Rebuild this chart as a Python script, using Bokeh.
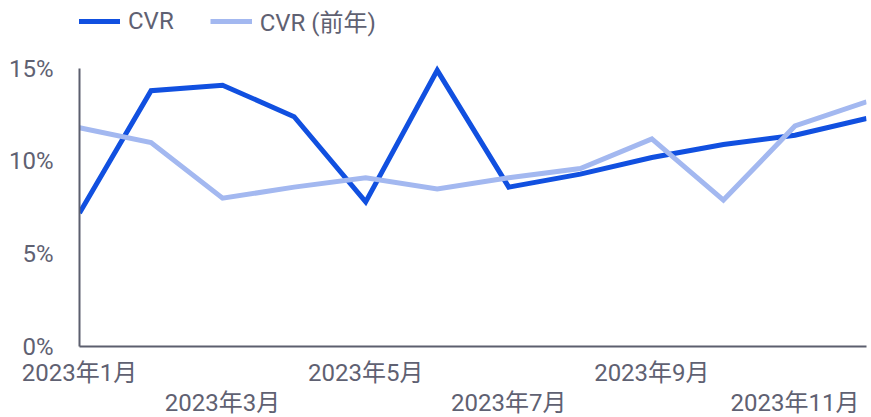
from bokeh.plotting import figure
from bokeh.models import Range1d, FixedTicker, LinearAxis, PrintfTickFormatter, Legend, LegendItem
from bokeh.embed import file_html
from bokeh.resources import INLINE

months = ["2023年1月", "2023年2月", "2023年3月", "2023年4月", "2023年5月", "2023年6月",
          "2023年7月", "2023年8月", "2023年9月", "2023年10月", "2023年11月", "2023年12月"]
cvr = [7.2, 13.8, 14.1, 12.4, 7.8, 14.9, 8.6, 9.3, 10.2, 10.9, 11.4, 12.3]
cvr_prev = [11.8, 11.0, 8.0, 8.6, 9.1, 8.5, 9.1, 9.6, 11.2, 7.9, 11.9, 13.2]
y_ticks = [0, 5, 10, 15]

x = list(range(len(months)))
FONT = "Roboto, 'Noto Sans CJK JP', sans-serif"
TXT = "#5f6172"
AX = "#5c5f6e"
BLUE = "#1150e0"
LIGHT = "#a3b8f0"
FS = "24px"

PLOT_H = 278          # pixel height of the 0-15% band
HEAD = 68             # headroom above 15% for the legend
FH = PLOT_H + HEAD
y_top = 15 + HEAD * 15 / PLOT_H

p = figure(frame_width=787, frame_height=FH, output_backend="svg", toolbar_location=None,
           x_range=Range1d(0, len(months) - 1), y_range=Range1d(0, y_top),
           x_axis_location=None, min_border_left=79, min_border_right=4,
           min_border_top=0, min_border_bottom=0)
p.outline_line_color = None
p.grid.visible = False

r1 = p.line(x, cvr, line_color=BLUE, line_width=5, line_join="miter")
r2 = p.line(x, cvr_prev, line_color=LIGHT, line_width=5, line_join="miter")

# y axis
ya = p.yaxis[0]
ya.ticker = FixedTicker(ticks=y_ticks)
ya.bounds = (0, 15)
ya.formatter = PrintfTickFormatter(format="%d%%")
ya.major_tick_line_color = None
ya.minor_tick_line_color = None
ya.axis_line_color = AX
ya.axis_line_width = 2
ya.major_label_text_font = FONT
ya.major_label_text_font_size = FS
ya.major_label_text_color = TXT
ya.major_label_standoff = 20

overrides = {i: m for i, m in enumerate(months)}

ax1 = LinearAxis(ticker=FixedTicker(ticks=x[0::4]), major_label_overrides=overrides)
ax2 = LinearAxis(ticker=FixedTicker(ticks=x[2::4]), major_label_overrides=overrides)
for a in (ax1, ax2):
    a.major_tick_line_color = None
    a.minor_tick_line_color = None
    a.major_label_text_font = FONT
    a.major_label_text_font_size = FS
    a.major_label_text_color = TXT
ax1.axis_line_color = AX
ax1.axis_line_width = 2
ax1.major_label_standoff = 6
ax2.axis_line_color = None
ax2.major_label_standoff = -7
p.add_layout(ax1, "below")
p.add_layout(ax2, "below")

legend = Legend(items=[LegendItem(label="CVR", renderers=[r1]),
                       LegendItem(label="CVR (前年)", renderers=[r2])],
                orientation="horizontal", location=(-1, PLOT_H + 30),
                label_text_font=FONT, label_text_font_size=FS, label_text_color=TXT,
                glyph_width=42, glyph_height=24, label_standoff=8, spacing=36,
                padding=0, margin=0, border_line_color=None, background_fill_alpha=0)
p.add_layout(legend, "center")

open("out.html", "w").write(file_html(p, INLINE))
